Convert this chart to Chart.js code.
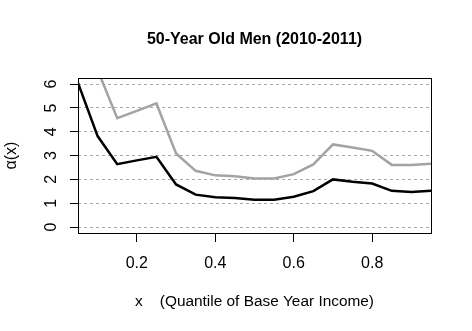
<!DOCTYPE html>
<html>
<head>
<meta charset="utf-8">
<script src="https://cdn.jsdelivr.net/npm/chart.js@4"></script>
<style>
body { margin: 0; background: #fff; }
#wrap { width: 472px; height: 331px; }
</style>
</head>
<body>
<div id="wrap"><canvas id="line-chart" width="472" height="331"></canvas></div>
<script>
// quantiles of base year income
var quantiles = [0.05, 0.10, 0.15, 0.20, 0.25, 0.30, 0.35, 0.40, 0.45, 0.50,
	0.55, 0.60, 0.65, 0.70, 0.75, 0.80, 0.85, 0.90, 0.95];
// alpha(x), lower curve (black)
var alphaBlack = [6.05, 3.82, 2.64, 2.80, 2.95, 1.79, 1.36, 1.25, 1.22, 1.15,
	1.15, 1.27, 1.51, 2.00, 1.90, 1.83, 1.52, 1.47, 1.52];
// alpha(x), upper curve (grey)
var alphaGrey = [8.80, 6.60, 4.57, 4.88, 5.19, 3.09, 2.36, 2.17, 2.13, 2.04,
	2.04, 2.22, 2.63, 3.47, 3.34, 3.20, 2.61, 2.61, 2.66];
var xTicks = [0.2, 0.4, 0.6, 0.8];
var yTicks = [0, 1, 2, 3, 4, 5, 6];

var font = "'Liberation Sans', Arial, sans-serif";

function toPoints(xs, ys) {
	return xs.map(function (x, i) { return { x: x, y: ys[i] }; });
}

var boxPlugin = {
	id: 'box',
	afterDraw: function (chart) {
		var a = chart.chartArea, ctx = chart.ctx;
		ctx.save();
		ctx.strokeStyle = '#000';
		ctx.lineWidth = 1;
		ctx.strokeRect(Math.round(a.left) + 0.5, Math.round(a.top) + 0.5,
			Math.round(a.right - a.left), Math.round(a.bottom - a.top));
		ctx.restore();
	}
};

function display_chart() {
	new Chart(document.getElementById("line-chart"), {
		type: 'line',
		data: {
			datasets: [{
					data: toPoints(quantiles, alphaGrey),
					borderColor: "#a3a3a3",
					borderWidth: 2.5,
					pointRadius: 0,
					tension: 0,
					fill: false
				}, {
					data: toPoints(quantiles, alphaBlack),
					borderColor: "#000000",
					borderWidth: 2.5,
					pointRadius: 0,
					tension: 0,
					fill: false
				}
			]
		},
		options: {
			responsive: false,
			animation: false,
			layout: { padding: { left: 0, right: 41, top: 0, bottom: 0 } },
			plugins: {
				legend: { display: false },
				tooltip: { enabled: false },
				title: {
					display: true,
					fullSize: false,
					text: '50-Year Old Men (2010-2011)',
					color: '#000',
					font: { family: font, size: 16, weight: 'bold' },
					padding: { top: 30, bottom: 29 }
				}
			},
			scales: {
				x: {
					type: 'linear',
					min: 0.05,
					max: 0.95,
					afterBuildTicks: function (scale) {
						scale.ticks = xTicks.map(function (v) { return { value: v }; });
					},
					afterFit: function (scale) { scale.height = 98; },
					grid: { drawOnChartArea: false, tickLength: 9, tickColor: '#000', tickWidth: 1 },
					border: { display: false },
					ticks: {
						color: '#000',
						font: { family: font, size: 16 },
						padding: 12,
						maxRotation: 0,
						callback: function (v) { return v.toFixed(1); }
					},
					title: {
						display: true,
						text: 'x    (Quantile of Base Year Income)',
						color: '#000',
						font: { family: font, size: 15.4 },
						padding: { top: 0, bottom: 20 }
					}
				},
				y: {
					min: -0.25,
					max: 6.25,
					afterBuildTicks: function (scale) {
						scale.ticks = yTicks.map(function (v) { return { value: v }; });
					},
					afterFit: function (scale) { scale.width = 78; },
					grid: {
						color: '#a8a8a8',
						lineWidth: 1,
						tickLength: 8,
						tickColor: '#000',
						tickWidth: 1,
						tickBorderDash: []
					},
					border: { display: false, dash: [3, 3] },
					ticks: {
						color: '#000',
						font: { family: font, size: 16 },
						padding: 14,
						minRotation: 90,
						maxRotation: 90,
						crossAlign: 'center'
					},
					title: {
						display: true,
						text: 'α(x)',
						color: '#000',
						font: { family: font, size: 16 },
						padding: { top: 2, bottom: 0 }
					}
				}
			}
		},
		plugins: [boxPlugin]
	});
}

display_chart();
</script>
</body>
</html>
